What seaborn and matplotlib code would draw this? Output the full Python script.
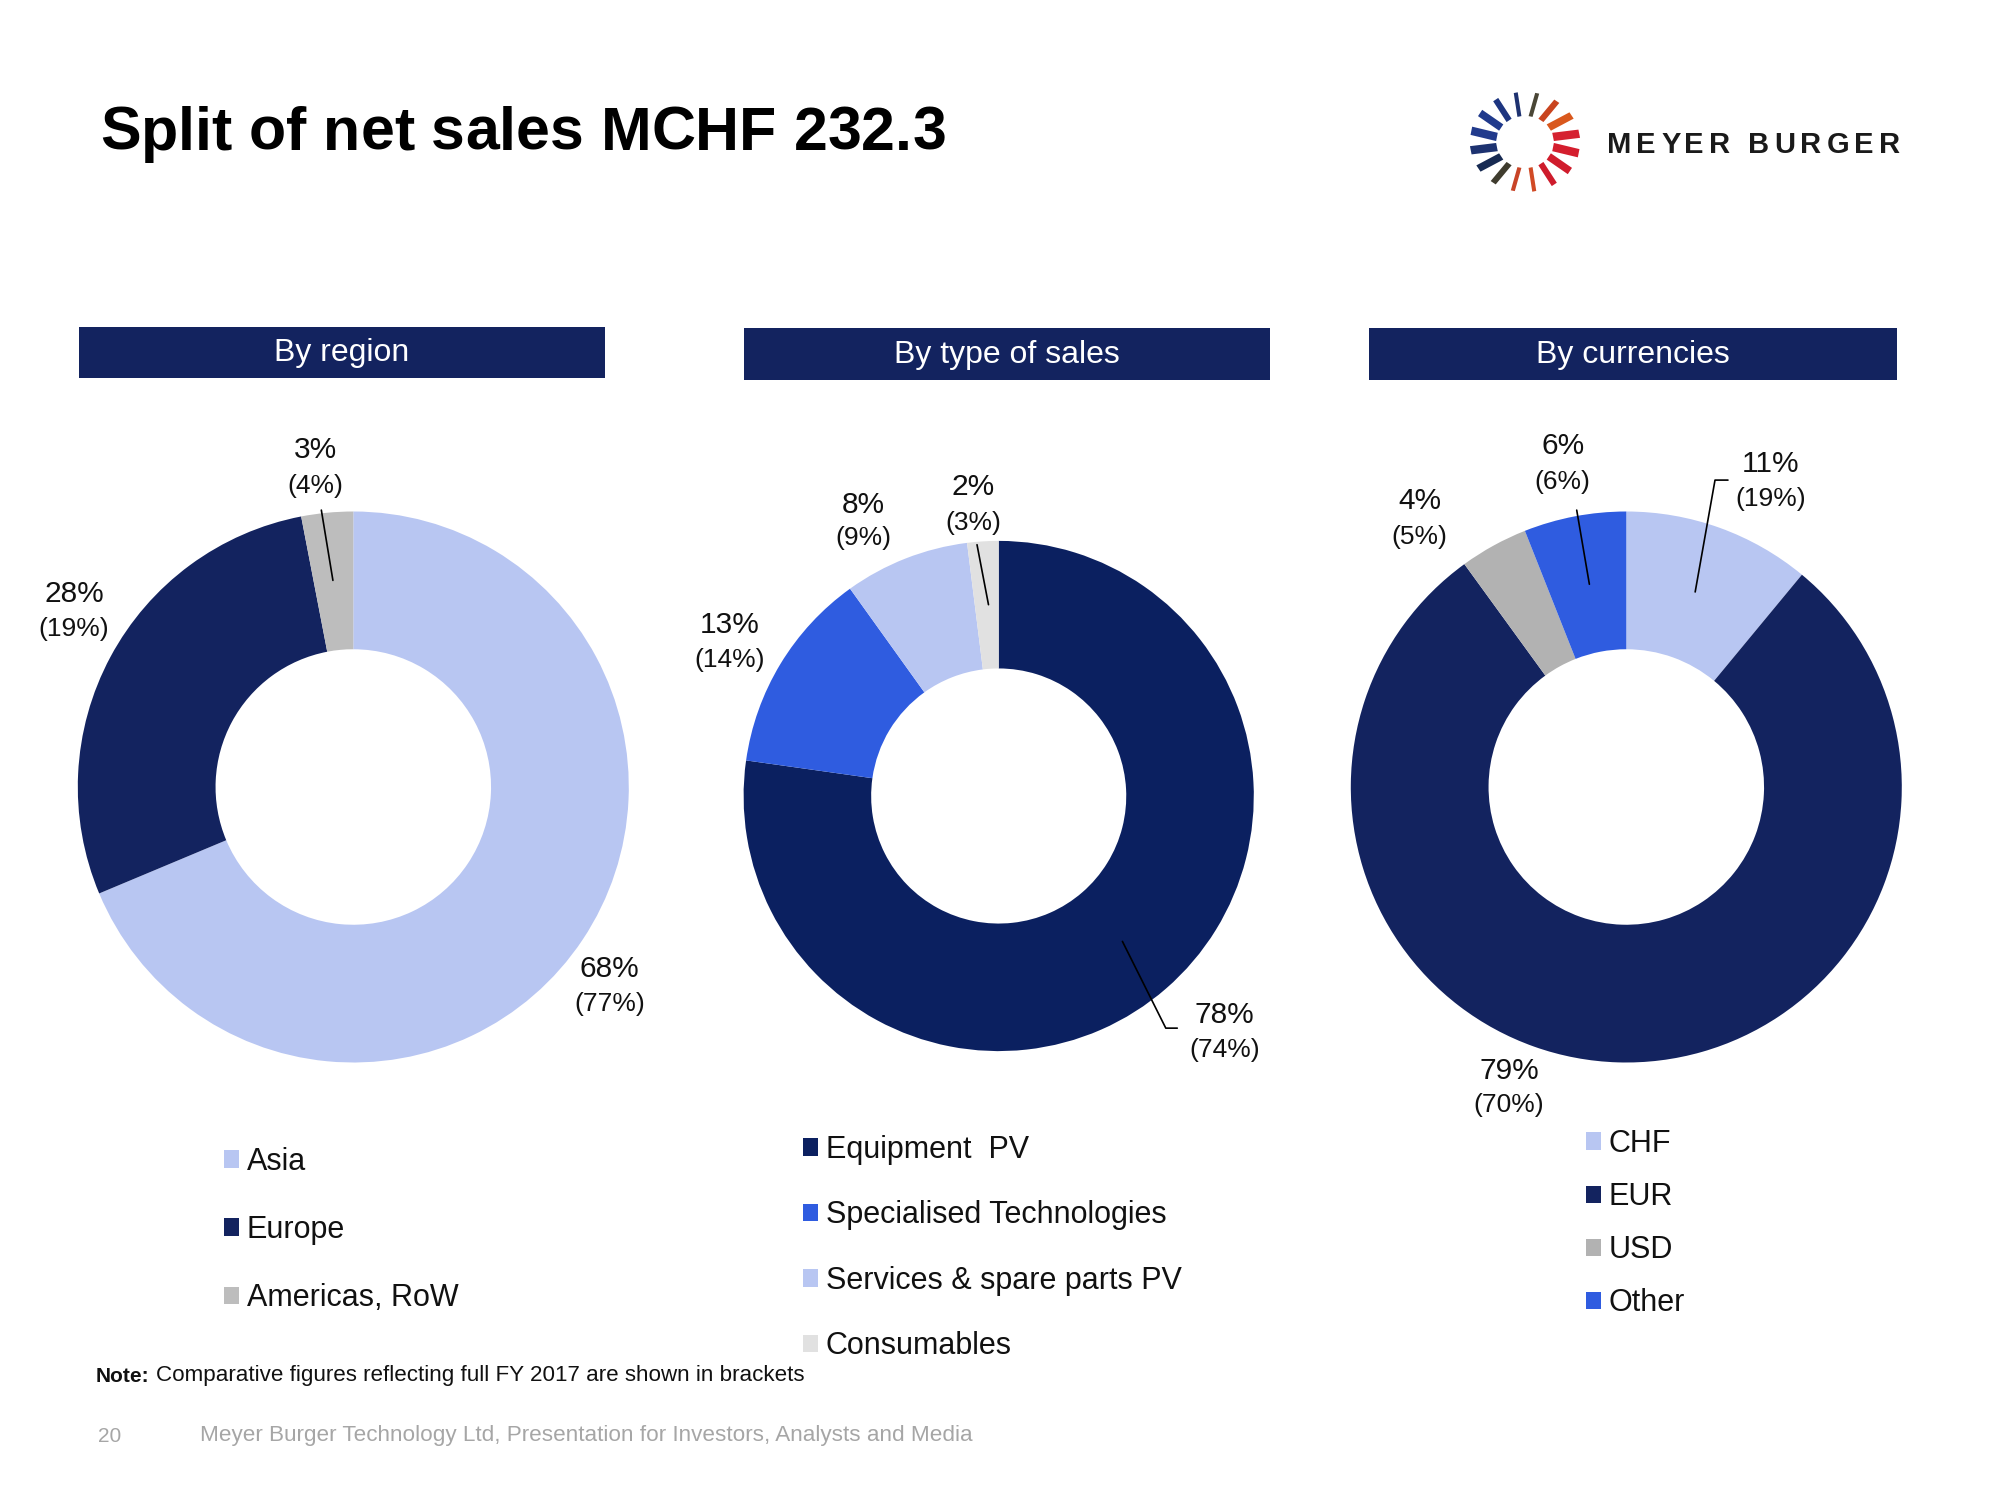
import matplotlib
matplotlib.use('Agg')
import matplotlib.pyplot as plt
from matplotlib.patches import Rectangle, Polygon
from matplotlib import font_manager
import numpy as np
import seaborn as sns

# ---- data (current period, comparative FY 2017 in brackets) ----
region_labels = ['Asia', 'Europe', 'Americas, RoW']
region_share = [68, 28, 3]
region_prev = [77, 19, 4]

type_labels = ['Equipment  PV', 'Specialised Technologies',
               'Services & spare parts PV', 'Consumables']
type_share = [78, 13, 8, 2]
type_prev = [74, 14, 9, 3]

currency_labels = ['CHF', 'EUR', 'USD', 'Other']
currency_share = [11, 79, 4, 6]
currency_prev = [19, 70, 5, 6]

# ---- styles ----
NAVY = '#13235F'
TYPE_NAVY = '#0B2060'
LIGHT = '#B8C6F2'
BRIGHT = '#2F5CE0'
region_colors = [LIGHT, NAVY, '#BDBDBD']
type_colors = [TYPE_NAVY, BRIGHT, LIGHT, '#E1E1E1']
currency_colors = [LIGHT, NAVY, '#B2B2B2', BRIGHT]

W, H = 2000, 1500
sns.set_theme(style='white')
plt.rcParams['font.family'] = ['Liberation Sans', 'DejaVu Sans']
TXT = '#111111'


def fx(x):
    return x / W


def fy(y):
    return 1 - y / H


def has_font(name):
    try:
        font_manager.findfont(font_manager.FontProperties(family=name),
                              fallback_to_default=False)
        return True
    except ValueError:
        return False


fig = plt.figure(figsize=(20, 15), dpi=100)
renderer = fig.canvas.get_renderer()


def text_width(s, size, **kw):
    t = fig.text(0, 0, s, fontsize=size, **kw)
    w = t.get_window_extent(renderer).width
    t.remove()
    return w


def tracked_text(x, y, s, size, target_width, **kw):
    """Draw text char by char, spreading it out to a target pixel width."""
    base = text_width('aa', size, **kw)
    adv = [text_width('a' + ch + 'a', size, **kw) - base for ch in s]
    natural = sum(adv[:-1]) + text_width(s[-1], size, **kw)
    if natural > target_width:
        size = size * target_width / natural
        return tracked_text(x, y, s, size, target_width, **kw)
    track = (target_width - natural) / (len(s) - 1)
    pos = x
    for ch, a in zip(s, adv):
        fig.text(fx(pos), fy(y), ch, fontsize=size, va='baseline', ha='left', **kw)
        pos += a + track


def fitted_text(x, y, s, target_width, **kw):
    size = 20 * target_width / text_width(s, 20, **kw)
    fig.text(fx(x), fy(y), s, fontsize=size, va='center', ha='left', **kw)
    return size


# ---- title ----
if has_font('Liberation Sans Narrow'):
    tracked_text(100, 150, 'Split of net sales MCHF 232.3', 48, 846,
                 family=['Liberation Sans Narrow'], fontweight='bold', color='black')
else:
    tracked_text(100, 150, 'Split of net sales MCHF 232.3', 46, 846,
                 fontweight='bold', color='black')

# ---- logo ----
tracked_text(1607, 153, 'MEYER BURGER', 21, 293, fontweight='bold', color='#1a1a1a')
ray_colors = ['#4A4636', '#C9441F', '#D9581D', '#D52230', '#D41E2E', '#D01C2C',
              '#CE1C2C', '#D14A25', '#C84427', '#3F3C2E', '#172A52', '#1D3270',
              '#213A8C', '#203A8C', '#1D3580', '#1E3270']
lcx, lcy = 1525, 142
for k, c in enumerate(ray_colors):
    th = np.deg2rad(78.75 - 22.5 * k)
    d = np.array([np.cos(th) * 1.1, -np.sin(th)])
    n = np.array([np.sin(th), np.cos(th)])
    hw = (3 + 5.5 * abs(np.cos(th))) / 2
    p0 = np.array([lcx, lcy]) + d * 26
    p1 = np.array([lcx, lcy]) + d * 50
    pts = [p0 + n * hw, p1 + n * hw + n * 1.5, p1 - n * hw + n * 1.5, p0 - n * hw]
    fig.add_artist(Polygon([(fx(p[0]), fy(p[1])) for p in pts], closed=True,
                           transform=fig.transFigure, facecolor=c, edgecolor='none'))

# ---- header bars ----
headers = [('By region', 79, 605, 327, 378),
           ('By type of sales', 744, 1270, 328, 380),
           ('By currencies', 1369, 1897, 328, 380)]
for label, x0, x1, y0, y1 in headers:
    fig.add_artist(Rectangle((fx(x0), fy(y1)), (x1 - x0) / W, (y1 - y0) / H,
                             transform=fig.transFigure, facecolor=NAVY, edgecolor='none'))
    fig.text(fx((x0 + x1) / 2), fy((y0 + y1) / 2 + 1), label, color='white',
             fontsize=23, ha='center', va='center')


def donut(cx, cy, R, shares, prev, colors, label_pos, leaders):
    ax = fig.add_axes([fx(cx - R), fy(cy + R), 2 * R / W, 2 * R / H])
    wedges, _ = ax.pie(shares, colors=colors, startangle=90, counterclock=False,
                       radius=1, wedgeprops=dict(width=0.5, linewidth=0))
    ax.set_xlim(-1, 1)
    ax.set_ylim(-1, 1)
    ax.set_axis_off()
    for v, p, (x, yb, ys) in zip(shares, prev, label_pos):
        ax.text(x, yb, f'{v}%', fontsize=21.5, ha='center', va='center', color=TXT)
        ax.text(x, ys, f'({p}%)', fontsize=19, ha='center', va='center', color=TXT)
    for pts in leaders:
        xs, ys = zip(*pts)
        ax.plot(xs, ys, color='black', lw=1.2, clip_on=False)
    return wedges


w_region = donut(353.3, 787, 275.5, region_share, region_prev, region_colors,
                 [(0.931, -0.662, -0.787), (-1.014, 0.699, 0.574), (-0.139, 1.222, 1.093)],
                 [[(-0.116, 1.005), (-0.074, 0.75)]])
w_type = donut(998.7, 796, 255.1, type_share, type_prev, type_colors,
               [(0.885, -0.86, -0.995), (-1.055, 0.67, 0.535),
                (-0.53, 1.14, 1.01), (-0.10, 1.21, 1.07)],
               [[(-0.085, 0.985), (-0.04, 0.75)],
                [(0.485, -0.57), (0.655, -0.91), (0.70, -0.91)]])
w_cur = donut(1626.3, 787, 275.5, currency_share, currency_prev, currency_colors,
              [(0.523, 1.171, 1.046), (-0.426, -1.032, -1.153),
               (-0.75, 1.037, 0.907), (-0.231, 1.236, 1.106)],
              [[(-0.18, 1.005), (-0.134, 0.736)],
               [(0.369, 1.114), (0.322, 1.114), (0.25, 0.708)]])

# ---- legends ----
for wedges, labels, x, y, spacing in [(w_region, region_labels, 224, 1147, 1.245),
                                      (w_type, type_labels, 803, 1135, 1.157),
                                      (w_cur, currency_labels, 1586, 1129, 0.755)]:
    fig.legend(wedges, labels, loc='upper left', bbox_to_anchor=(fx(x), fy(y)),
               frameon=False, fontsize=22, handlelength=0.5, handleheight=0.5,
               handletextpad=0.25, labelspacing=spacing, borderpad=0, borderaxespad=0,
               labelcolor=TXT)

# ---- note and footer ----
note_size = 15
t = fig.text(fx(96), fy(1376), 'Note:', fontsize=note_size, fontweight='bold',
             va='center', ha='left', color=TXT)
nw = t.get_window_extent(renderer).width
fitted_text(96 + nw + 6, 1376, 'Comparative figures reflecting full FY 2017 are shown in brackets',
            705 - nw - 6, color=TXT)
fig.text(fx(98), fy(1436), '20', fontsize=15, va='center', ha='left', color='#A6A6A6')
fitted_text(200, 1436, 'Meyer Burger Technology Ltd, Presentation for Investors, Analysts and Media',
            767, color='#A6A6A6')

fig.savefig('out.png', dpi=100, facecolor='white')
